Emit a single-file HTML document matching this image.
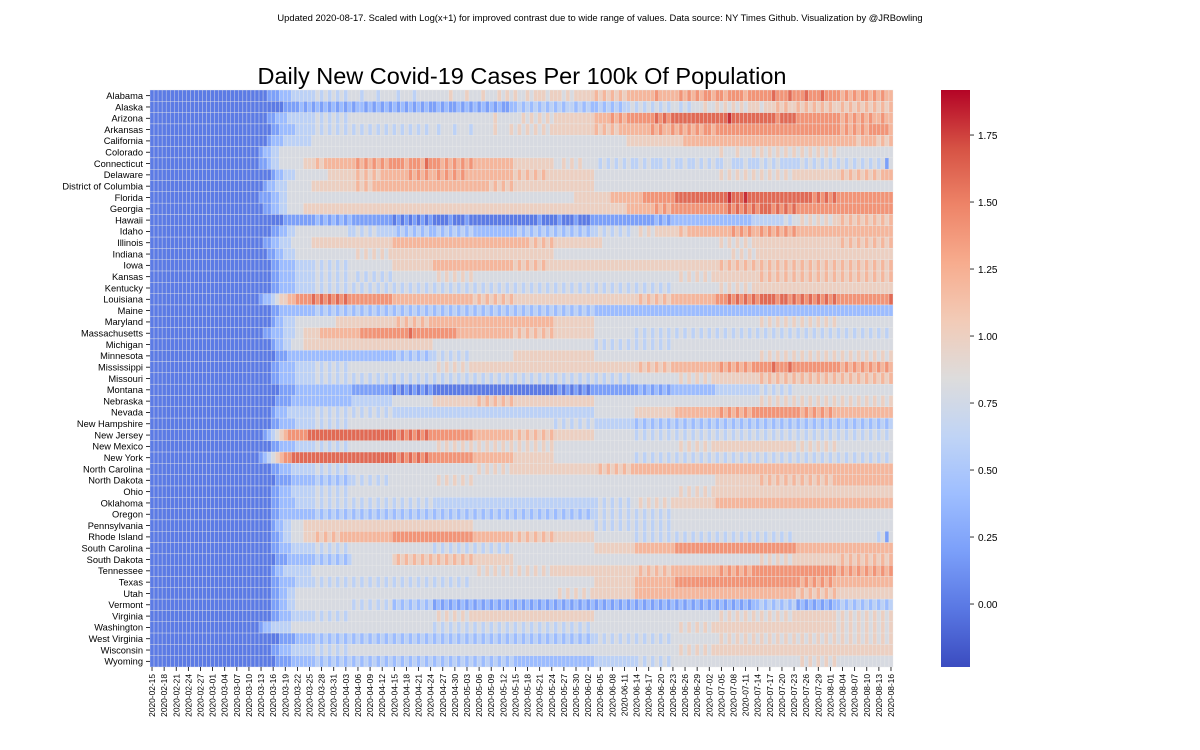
<!DOCTYPE html>
<html><head><meta charset="utf-8">
<style>
html,body{margin:0;padding:0;background:#fff;}
svg{display:block;font-family:"Liberation Sans","DejaVu Sans",sans-serif;}
</style></head>
<body>
<svg id="chart" width="1200" height="750" viewBox="0 0 1200 750" xmlns="http://www.w3.org/2000/svg">
<text x="600" y="21" font-size="9.4" text-anchor="middle" fill="#000">Updated 2020-08-17. Scaled with Log(x+1) for improved contrast due to wide range of values. Data source: NY Times Github. Visualization by @JRBowling</text>
<text x="522" y="84" font-size="23.5" text-anchor="middle" fill="#000">Daily New Covid-19 Cases Per 100k Of Population</text>
<g id="cells"></g>
<g id="ylabels"></g>
<g id="xlabels"></g>
<defs><linearGradient id="cbgrad" x1="0" y1="1" x2="0" y2="0"></linearGradient></defs>
<rect x="941" y="90" width="29" height="577" fill="url(#cbgrad)"/>
<g id="cbticks"></g>
</svg>
<script>
const states = ["Alabama","Alaska","Arizona","Arkansas","California","Colorado","Connecticut","Delaware","District of Columbia","Florida","Georgia","Hawaii","Idaho","Illinois","Indiana","Iowa","Kansas","Kentucky","Louisiana","Maine","Maryland","Massachusetts","Michigan","Minnesota","Mississippi","Missouri","Montana","Nebraska","Nevada","New Hampshire","New Jersey","New Mexico","New York","North Carolina","North Dakota","Ohio","Oklahoma","Oregon","Pennsylvania","Rhode Island","South Carolina","South Dakota","Tennessee","Texas","Utah","Vermont","Virginia","Washington","West Virginia","Wisconsin","Wyoming"];
const startDate = "2020-02-15";
const dayCount = 184;
const levelCodes = "0123456789A";
const levelValues = [-0.2,0.0,0.2,0.4,0.6,0.8,1.0,1.2,1.4,1.6,1.8];
const cbTicks = [0.00,0.25,0.50,0.75,1.00,1.25,1.50,1.75];
const cbMin = -0.235, cbMax = 1.918;
const series = [
"1111111111 1111111111 1111111112 2233344444 4545454545 5545554555 5455545555 5555655565 5565556565 6556566656 6656566666 7676767677 7777787777 7878787887 8878888788 8888988898 8898889888 8787878878 7877",
"1111111111 1111111111 1111111111 1112222323 2323232323 2332323232 3232323232 2323223232 3232323223 3434343434 3434434343 3434343445 4545454545 5454555655 6565656566 6566676766 7676767676 6767676767 6767",
"1111111111 1111111111 1111111112 2333444444 4545454545 5555555555 5555555555 5555555555 5555565555 5565656565 6666666666 7777878788 8888898989 9999999999 999A999999 9999989999 8888888888 8787878787 7877",
"1111111111 1111111111 1111111111 2233334444 4545454545 4545454545 4545454545 5455545554 5555565556 5656565656 6666666666 7676767777 7777878778 7878787887 8888888888 8888888888 8888888888 8787878788 8887",
"1111111111 1111111111 1111111112 3334444444 5555555555 5555555555 5555555555 5555555555 5555555555 5555555555 5555555555 5555555566 6666666666 6677777777 7777777777 7777777777 7777777777 7777767777 6767",
"1111111111 1111111111 1111111233 4455555555 5555555555 5555555555 5555555555 5555555555 5555555555 5555555555 5555555555 5555555555 5555555555 5555555555 5655565556 5656565656 5656565656 5555555555 5555",
"1111111111 1111111111 1111111223 4455555566 6767777777 7878787878 8887888798 8878787878 7777777777 6666666666 5565656555 5454545454 4545444545 4454454545 4455444544 4545454444 4545454545 4545454545 4525",
"1111111111 1111111111 1111111111 2334445555 5555666666 6767676777 7777878787 7878787877 7777777777 6767676766 6666666666 5555555555 5555555555 5555555555 5656565656 5656565656 6666666666 6767676767 6777",
"1111111111 1111111111 1111111123 3444555555 6666666666 6767677777 7777777777 7777777777 7777676767 6666666666 6666666666 5555555555 5555555555 5555555555 5555555555 5555555555 5555555555 5555555555 5555",
"1111111111 1111111111 1111111222 3344555555 5555555555 5555555555 5555555555 5555555555 5555555555 5555555555 5555566666 6666777777 7788888888 9999999999 999A999A99 9999999999 9999898989 8888888888 8888",
"1111111111 1111111111 1111111122 3344555566 6666666666 6666666666 6666666666 6666666666 6666666666 6666666666 6666666666 6666666677 7777787878 8888888888 8889898989 8999898989 8888888888 8888888888 8888",
"1111111111 1111111111 1111111111 1112222222 2323232323 2222222222 1212121212 1111211121 1111111111 1111112111 1211121112 2222222222 2222232323 3333333333 3333333334 4444444545 5656565656 6767676767 6767",
"1111111111 1111111111 1111111111 2233445555 5555555554 4545454444 4343434343 3434343434 3333333333 3434343434 3434343434 4545454545 5656566666 6767777777 7777878787 7878787878 7777777777 7777777777 7777",
"1111111111 1111111111 1111111122 3344455555 6666666666 6666666666 7777777777 7777777777 7777777777 7777676767 6666666666 6655555555 5555555555 5555555555 5656565656 6666666666 6666666666 6767676767 6767",
"1111111111 1111111111 1111111112 2334445555 5555555555 5656565656 6666666666 6666666666 6666666666 6666666666 5555555555 5555555555 5555555555 5555555555 5555656565 6666666666 6666666666 6666666666 6666",
"1111111111 1111111111 1111111111 2233334444 4545454545 5555555555 6666666666 7777777777 7777777777 6767676766 6666666666 6666666666 6666666666 6666666666 6767676767 6767676767 6767676767 6767676767 6767",
"1111111111 1111111111 1111111111 2233334444 4545454545 5454545454 5555555555 5656565656 5555555555 5555555555 5555555555 5555555555 5555555555 5656565656 6666666666 6767676767 6767676767 6767676767 6767",
"1111111111 1111111111 1111111111 2233334444 4545454545 4545454545 4545454545 4545454545 4545454545 4545454545 4545454545 4545454545 4545454545 5555555555 5656565656 6666666666 6666666666 6666666666 6666",
"1111111111 1111111111 1111111233 4566778888 9898989898 8888888888 7777777777 7777777777 6767676767 6666666666 6666666666 6666666666 6767676767 7777777777 8889898989 8999989989 8989898989 8888888888 8889",
"1111111111 1111111111 1111111111 2233333333 3434343434 3434343434 3434343434 3434343434 3434343434 3434343434 3434343434 3333333333 3333333333 3333333333 3333333333 3333333333 3333333333 3333333333 3333",
"1111111111 1111111111 1111111111 2334445555 5555556666 6666666666 6767676767 7777777777 7777777777 7777777777 6666666666 5555555555 5555555555 5555555555 5555555555 5656565656 5656565656 5555555555 5555",
"1111111111 1111111111 1111111122 3334445566 6677777777 7788888888 8888988888 8888887777 7777777777 6767676767 6666666666 5555555555 4545454545 4545454545 4545454545 4545454545 4545454545 4545454545 4545",
"1111111111 1111111111 1111111111 2334455566 6666666666 6666666666 6666666666 5555555555 5555555555 5555555555 5555555555 4545454545 4545454545 5555555555 5555555555 5555555555 5555555555 5555555555 5555",
"1111111111 1111111111 1111111111 1222333333 3333333333 3333333333 3434343434 4545454545 5555555555 6666666666 6666666666 5555555555 5555555555 5555555555 5555555555 5656565656 5656565656 5656565656 5656",
"1111111111 1111111111 1111111111 2233334444 4545454545 5555555555 5555555555 5656565656 6666666666 6666666666 6666666666 6666666666 6767676767 7777777777 7878787878 8888988898 8888888888 8787878787 8787",
"1111111111 1111111111 1111111111 2233334444 4545454545 4545454545 4545454545 4545454545 4545454545 4545454545 4545454545 4545454545 5555555555 5656565656 6666666666 6767676767 6767676767 6767676767 6767",
"1111111111 1111111111 1111111111 1122223333 3333333333 2222222222 1212121212 1111111111 1111111111 1111111111 1212121212 2222222222 2323232323 3333333333 4444444444 4545454545 5555555555 5555555555 5555",
"1111111111 1111111111 1111111111 1222233333 3333333333 4444444444 5555555555 6666666666 6767676767 6666666666 6666666666 5555555555 5555555555 5555555555 5555555555 5656565656 5656565656 5656565656 5656",
"1111111111 1111111111 1111111111 2333444444 4545454545 4545454545 4444444444 4444444444 4444444444 4444444444 4444444444 5555555555 6666666666 7777777777 7878787878 8888888888 8787878787 7777777777 7777",
"1111111111 1111111111 1111111111 2233334444 4545454545 5555555555 5555555555 5555555555 5555555555 5555555555 4545454545 4444444444 3434343434 3434343434 3434343434 3434343434 3434343434 3434343434 3434",
"1111111111 1111111111 1111111123 4567888889 9999999999 9999999999 9898989898 8888888888 7777777777 6767676767 6666666666 5555555555 4545454545 4545454545 4545454545 4545454545 4545454545 4545454545 4545",
"1111111111 1111111111 1111111111 2233334444 4545454545 5555555555 5555555555 5656565656 5656565656 5656565656 5555555555 5555555555 5555555555 5656565656 6666666666 6666666666 5656565656 5555555555 5555",
"1111111111 1111111111 1111111234 5678899999 9999999999 9999999999 9898989898 8888888888 7777777777 6666666666 5555555555 5555555555 4545454545 4545454545 4545454545 4545454545 4545454545 4545454545 4545",
"1111111111 1111111111 1111111111 2233344444 4545454545 5555555555 5555555555 5555555555 5656565656 6666666666 6666666666 6767676767 7777777777 7777777777 7777777777 7777777777 7777777777 7777777777 7777",
"1111111111 1111111111 1111111111 1222233333 3434343434 4545454545 5555555555 5656565656 5555555555 5555555555 5555555555 5555555555 5555555555 5555555555 6666666666 6767676767 6767676767 7777777777 7777",
"1111111111 1111111111 1111111111 2233344444 4545454545 5555555555 5555555555 5555555555 5555555555 5555555555 5555555555 5555555555 5555555555 5656565656 6666666666 6666666666 6666666666 6666666666 6666",
"1111111111 1111111111 1111111111 2233334444 4545454545 4545454545 4545454545 4444444444 4444444444 4444444444 4444444444 4545454545 5656565656 6666666666 7777777777 7777777777 7777777777 7777777777 7777",
"1111111111 1111111111 1111111111 2233333333 3434343434 3434343434 3434343434 3434343434 3434343434 3434343434 3434343434 4545454545 4545454545 5555555555 5555555555 5555555555 5555555555 5555555555 5555",
"1111111111 1111111111 1111111111 2334455566 6666666666 6666666666 6666666666 6666666666 5555555555 5555555555 5555555555 4545454545 4545454545 5555555555 5555555555 5555555555 5555555555 5555555555 5555",
"1111111111 1111111111 1111111111 2234455566 6767676777 7777777777 8888888888 8888888888 7777777777 6767676767 6666666666 5555555555 4545454545 4545454545 4545454545 4545454545 5555555555 5555555555 4525",
"1111111111 1111111111 1111111111 2233344444 4545454545 5555555555 5555555555 4545454545 4545454545 5555555555 5555555555 6666666666 7777777777 8888888888 8888888888 8888888888 7777777777 7777777777 7777",
"1111111111 1111111111 1111111111 1222333333 3434343434 5555555555 6767676767 6767676767 6666666666 5555555555 5555555555 5555555555 5555555555 5555555555 5555555555 5656565656 6666666666 6767676767 6767",
"1111111111 1111111111 1111111111 2334444444 5555555555 5555555555 5555555555 5555555555 5656565656 5656565656 6666666666 6666666666 6767676767 7777777777 7878787878 8888888888 8888888888 7878787878 7878",
"1111111111 1111111111 1111111111 2233334444 4545454545 4545454545 4545454545 4545454545 5555555555 5555555555 5555555555 6666666666 7777777777 8888888888 8888888888 8888888888 8787878787 7777777777 7777",
"1111111111 1111111111 1111111111 2233445555 5555555555 5555555555 5555555555 5555555555 5555555555 5555555555 5656565656 6666666666 7777777777 7777777777 7777777777 7777777777 6767676767 6666666666 6666",
"1111111111 1111111111 1111111111 2233445555 5555555555 4545454545 3434343434 2323232323 2323232323 2323232323 2323232323 2323232323 2323232323 2323232323 2323232323 3434343434 2323232323 3434343434 3434",
"1111111111 1111111111 1111111111 2233344444 4545454545 5555555555 5555555555 5656565656 6666666666 6666666666 6666666666 5555555555 5555555555 5555555555 5656565656 5656565656 6666666666 5656565656 5656",
"1111111111 1111111111 1111111233 4444455555 5555555555 5555555555 5555555555 4545454545 4545454545 4545454545 4545454545 5555555555 5555555555 5656565656 6666666666 6666666666 6666666666 5656565656 5656",
"1111111111 1111111111 1111111111 1122223333 3434343434 3434343434 3434343434 3434343434 3434343434 3434343434 3434343434 4545454545 4545454545 5555555555 5656565656 5656565656 5656565656 5656565656 5656",
"1111111111 1111111111 1111111111 2233344444 4545454545 5555555555 5555555555 5555555555 5555555555 5555555555 5555555555 5555555555 5555555555 5656565656 6666666666 6666666666 6666666666 6666666666 6666",
"1111111111 1111111111 1111111111 1222233333 3434343434 3434343434 3434343434 3434343434 3434343434 3333333333 3333333333 4444444444 4545454545 5555555555 5555555555 5555555555 5656565656 5555555555 5555"
];

const NS = "http://www.w3.org/2000/svg";
const X0 = 150, X1 = 893, Y0 = 90, Y1 = 667;
const cw = (X1 - X0) / dayCount, rh = (Y1 - Y0) / states.length;
function xScale(i){ return X0 + i * cw; }
function yScale(i){ return Y0 + i * rh; }
function cbY(v){ return Y1 - (v - cbMin) / (cbMax - cbMin) * (Y1 - Y0); }
const cmap = [[59,76,192],[89,119,227],[123,159,249],[158,190,255],[192,212,245],[221,220,220],[242,203,183],[247,172,142],[238,132,104],[214,82,68],[180,4,38]];
function colorFor(v){
  let t = (v - cbMin) / (cbMax - cbMin); t = Math.max(0, Math.min(1, t));
  const p = t * 10, i = Math.min(9, Math.floor(p)), f = p - i;
  const a = cmap[i], b = cmap[i+1];
  return "rgb(" + a.map((c,k)=>Math.round(c + (b[k]-c)*f)).join(",") + ")";
}
function el(tag, attrs){ const e = document.createElementNS(NS, tag); for (const k in attrs) e.setAttribute(k, attrs[k]); return e; }

const cells = document.getElementById("cells");
series.forEach((s, r) => {
  const codes = s.replace(/\s+/g, "");
  for (let d = 0; d < Math.min(codes.length, dayCount); d++) {
    const v = levelValues[levelCodes.indexOf(codes[d])];
    const rect = el("rect", {x: xScale(d).toFixed(2), y: yScale(r).toFixed(2), width: cw.toFixed(2), height: rh.toFixed(2), fill: colorFor(v), stroke: "#e8e8e8", "stroke-width": "0.35"});
    
    
    cells.appendChild(rect);
  }
});

const yl = document.getElementById("ylabels");
states.forEach((name, r) => {
  const yc = yScale(r) + rh / 2;
  const tk = el("line", {x1: X0 - 4, x2: X0, y1: yc, y2: yc, stroke: "#000", "stroke-width": "0.8"});
  
  
  yl.appendChild(tk);
  const t = el("text", {x: X0 - 7, y: yc + 3.3, "font-size": "9.3", "text-anchor": "end", fill: "#000"});
  t.textContent = name;
  
  
  yl.appendChild(t);
});

const xl = document.getElementById("xlabels");
const base = new Date(startDate + "T00:00:00Z");
for (let d = 0; d < dayCount; d += 3) {
  const dt = new Date(base.getTime() + d * 86400000);
  const label = dt.toISOString().slice(0, 10);
  const xc = xScale(d) + cw / 2;
  const tk = el("line", {x1: xc, x2: xc, y1: Y1, y2: Y1 + 4, stroke: "#000", "stroke-width": "0.8"});
  
  
  xl.appendChild(tk);
  const t = el("text", {x: 0, y: 0, "font-size": "8.4", "text-anchor": "end", fill: "#000", transform: "translate(" + (xc + 3).toFixed(2) + "," + (Y1 + 7) + ") rotate(-90)"});
  t.textContent = label;
  
  
  xl.appendChild(t);
}

const grad = document.getElementById("cbgrad");
for (let k = 0; k <= 10; k++) {
  const st = el("stop", {offset: (k * 10) + "%", "stop-color": "rgb(" + cmap[k].join(",") + ")"});
  grad.appendChild(st);
}
const cbt = document.getElementById("cbticks");
cbTicks.forEach(v => {
  const y = cbY(v);
  const tk = el("line", {x1: 970, x2: 974, y1: y, y2: y, stroke: "#000", "stroke-width": "0.8"});
  
  
  cbt.appendChild(tk);
  const t = el("text", {x: 978, y: y + 4, "font-size": "10", fill: "#000"});
  t.textContent = v.toFixed(2);
  
  
  cbt.appendChild(t);
});
</script>
</body></html>
